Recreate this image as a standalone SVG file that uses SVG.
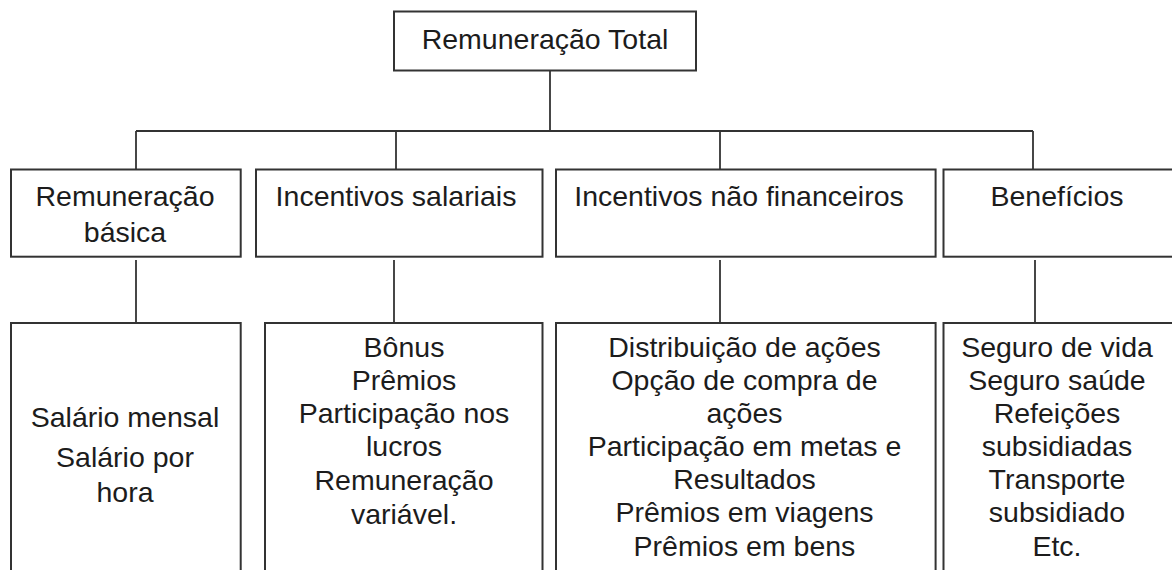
<svg xmlns="http://www.w3.org/2000/svg" width="1172" height="570" viewBox="0 0 1172 570">
<style>
.box{fill:#fff;stroke:#333;stroke-width:2}
.con{fill:none;stroke:#333;stroke-width:1.8}
text{font-family:"Liberation Sans",Arial,sans-serif;font-size:28.5px;fill:#1c1c1c;text-anchor:middle}
</style>
<rect width="1172" height="570" fill="#fff"/>
<g id="connectors">
<path class="con" d="M550,70.5V131M136,131H1033M136,131V169.5M396,131V169.5M720,131V169.5M1033,131V169.5"/>
<path class="con" d="M136,260V323M394,260V323M720,260V323M1035,260V323"/>
</g>
<g id="root">
<rect class="box" x="394" y="11.5" width="302" height="59"/>
<text x="545" y="48.5">Remuneração Total</text>
</g>
<g id="remuneracao-basica">
<rect class="box" x="11" y="169.5" width="229.7" height="87.2"/>
<text x="125" y="205.7">Remuneração</text>
<text x="125" y="242">básica</text>
</g>
<g id="incentivos-salariais">
<rect class="box" x="256" y="169.5" width="286.5" height="87.2"/>
<text x="396" y="205.7">Incentivos salariais</text>
</g>
<g id="incentivos-nao-financeiros">
<rect class="box" x="556" y="169.5" width="379.6" height="87.2"/>
<text x="739" y="205.7">Incentivos não financeiros</text>
</g>
<g id="beneficios">
<rect class="box" x="943.5" y="169.5" width="240" height="87.2"/>
<text x="1057" y="205.7">Benefícios</text>
</g>
<g id="basica-itens">
<rect class="box" x="11" y="323" width="229.7" height="260"/>
<text x="125" y="427">Salário mensal</text>
<text x="125" y="467">Salário por</text>
<text x="125" y="502">hora</text>
</g>
<g id="salariais-itens">
<rect class="box" x="265" y="323" width="277.5" height="260"/>
<text x="404" y="357.3">Bônus</text>
<text x="404" y="390">Prêmios</text>
<text x="404" y="422.5">Participação nos</text>
<text x="404" y="456">lucros</text>
<text x="404" y="490">Remuneração</text>
<text x="404" y="524">variável.</text>
</g>
<g id="nao-financeiros-itens">
<rect class="box" x="556" y="323" width="379.6" height="260"/>
<text x="744.5" y="357">Distribuição de ações</text>
<text x="744.5" y="390">Opção de compra de</text>
<text x="744.5" y="423">ações</text>
<text x="744.5" y="456">Participação em metas e</text>
<text x="744.5" y="489">Resultados</text>
<text x="744.5" y="522">Prêmios em viagens</text>
<text x="744.5" y="556">Prêmios em bens</text>
</g>
<g id="beneficios-itens">
<rect class="box" x="943.5" y="323" width="240" height="260"/>
<text x="1057" y="357">Seguro de vida</text>
<text x="1057" y="390">Seguro saúde</text>
<text x="1057" y="423">Refeições</text>
<text x="1057" y="456">subsidiadas</text>
<text x="1057" y="489">Transporte</text>
<text x="1057" y="522">subsidiado</text>
<text x="1057" y="556">Etc.</text>
</g>
</svg>
